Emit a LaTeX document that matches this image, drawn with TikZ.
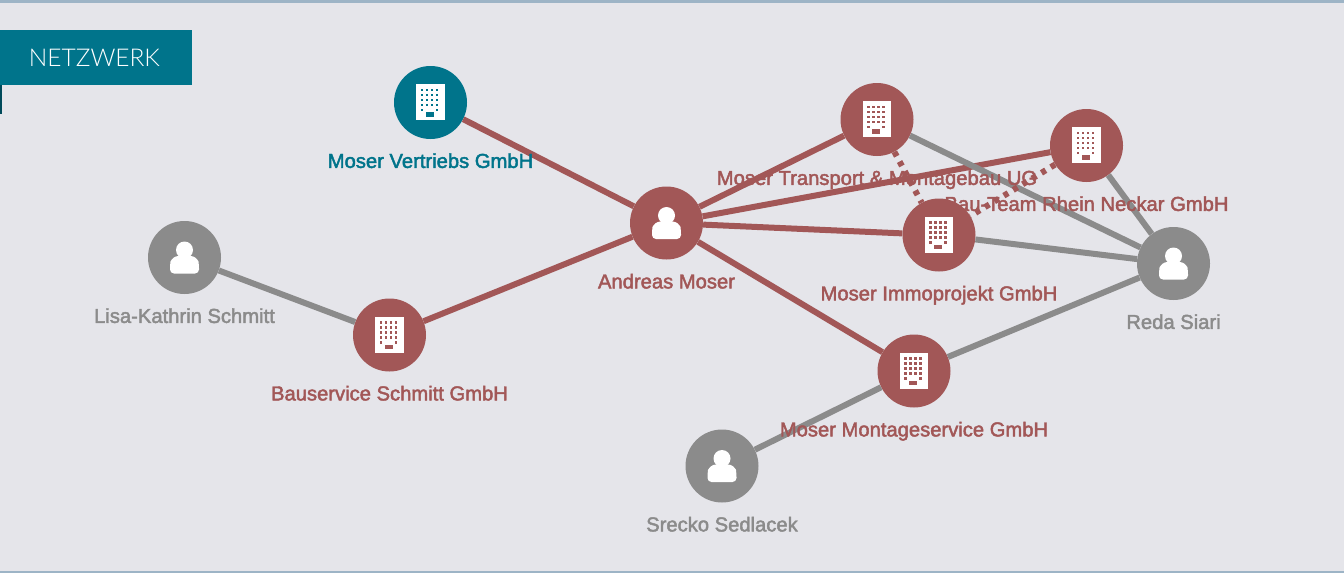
\documentclass[tikz,border=0pt]{standalone}
\usepackage{fontspec}
\setmainfont{Liberation Sans}[FakeBold=2.2]
\newfontfamily\bannerfont{Lato Light}
\usetikzlibrary{positioning}

\definecolor{paper}{HTML}{E5E5EA}
\definecolor{rule}{HTML}{9DB4C6}
\definecolor{teal}{HTML}{00748B}
\definecolor{fold}{HTML}{004A5A}
\definecolor{firm}{HTML}{A25757}
\definecolor{grey}{HTML}{8B8B8B}

\tikzset{
  entity/.style={circle,fill=#1,minimum size=73pt,inner sep=0pt},
  lab/.style={text=#1,font=\fontsize{20.2}{20.2}\selectfont,inner sep=0pt,text height=14pt,text depth=4pt},
  link/.style={line width=6pt,color=firm},
  greylink/.style={line width=6pt,color=grey},
  dotlink/.style={line width=6pt,color=firm,dash pattern=on 5pt off 6pt}
}

% white person on a circle
\newcommand{\personicon}[1]{
  \begin{scope}[shift={(#1)}]
    \fill[white] (0,-7.5) circle (8.5pt);
    \fill[white,rounded corners=4pt] (-14.5,16) -- (-14.5,7) [rounded corners=7pt] -- (-13,-1.5) -- (13,-1.5) [rounded corners=4pt] -- (14.5,7) -- (14.5,16) -- cycle;
  \end{scope}
}

% white block of flats with windows in the colour of the circle
\newcommand{\flaticon}[2]{
  \begin{scope}[shift={(#1)}]
    \fill[white] (-14.5,-18.5) rectangle (14,17.5);
    \foreach \x in {-8.7,-3.7,1.3,6.3}
      \foreach \y in {-12.5,-7.5,-2.5,2.5}
        \fill[#2] (\x-1.2,\y-1.2) rectangle (\x+1.2,\y+1.2);
    \foreach \x in {-8.7,6.3}
      \fill[#2] (\x-1.2,6.3) rectangle (\x+1.2,8.7);
    \fill[#2] (-4.7,9.8) rectangle (3.3,14);
  \end{scope}
}

\begin{document}
\begin{tikzpicture}[x=1pt,y=-1pt]
\useasboundingbox (0,0) rectangle (1344,573);

%draw background
\fill[paper] (0,0) rectangle (1344,573);
\fill[rule] (0,0) rectangle (1344,3);
\fill[rule] (0,571) rectangle (1344,573);

%draw banner
\fill[fold] (0,85) rectangle (2,114);
\node[fill=teal,minimum width=192pt,minimum height=55pt,inner sep=0pt] (banner) at (96,57.5) {};
\node[text=white,font=\bannerfont\fontsize{24.5}{24.5}\selectfont] (title) at (94.5,57.5) {NETZWERK};

%draw circles
\node[entity=teal] (vertrieb) at (430.5,102.5) {};
\node[entity=firm] (andreas) at (666.5,223) {};
\node[entity=firm] (transport) at (877,119.5) {};
\node[entity=firm] (rhein) at (1086.5,145.5) {};
\node[entity=firm] (immo) at (939,235) {};
\node[entity=grey] (reda) at (1173.5,263.5) {};
\node[entity=firm] (montage) at (914,371) {};
\node[entity=grey] (srecko) at (722,466) {};
\node[entity=grey] (lisa) at (184.5,257.5) {};
\node[entity=firm] (bauservice) at (389.5,335) {};

%draw connectors
\foreach \a/\b in {vertrieb/andreas,bauservice/andreas,andreas/transport,andreas/rhein,andreas/immo,andreas/montage}
\draw[link] (\a) -- (\b);
\foreach \a/\b in {lisa/bauservice,transport/reda,rhein/reda,immo/reda,montage/reda,montage/srecko}
\draw[greylink] (\a) -- (\b);
\draw[dotlink] (transport) -- (immo);
\draw[dotlink] (rhein) -- (immo);

%draw icons
\personicon{andreas}
\personicon{reda}
\personicon{srecko}
\personicon{lisa}
\flaticon{vertrieb}{teal}
\flaticon{transport}{firm}
\flaticon{rhein}{firm}
\flaticon{immo}{firm}
\flaticon{montage}{firm}
\flaticon{bauservice}{firm}

%draw labels
\node[lab=teal,below=14.5pt of vertrieb] (vertriebtext) {Moser Vertriebs GmbH};
\node[lab=firm,below=14.5pt of andreas] (andreastext) {Andreas Moser};
\node[lab=firm,below=14.5pt of transport] (transporttext) {Moser Transport \& Montagebau UG};
\node[lab=firm,below=14.5pt of rhein] (rheintext) {Bau-Team Rhein Neckar GmbH};
\node[lab=firm,below=14.5pt of immo] (immotext) {Moser Immoprojekt GmbH};
\node[lab=grey,below=14.5pt of reda] (redatext) {Reda Siari};
\node[lab=firm,below=14.5pt of montage] (montagetext) {Moser Montageservice GmbH};
\node[lab=grey,below=14.5pt of srecko] (sreckotext) {Srecko Sedlacek};
\node[lab=grey,below=14.5pt of lisa] (lisatext) {Lisa-Kathrin Schmitt};
\node[lab=firm,below=14.5pt of bauservice] (bauservicetext) {Bauservice Schmitt GmbH};
\end{tikzpicture}
\end{document}
